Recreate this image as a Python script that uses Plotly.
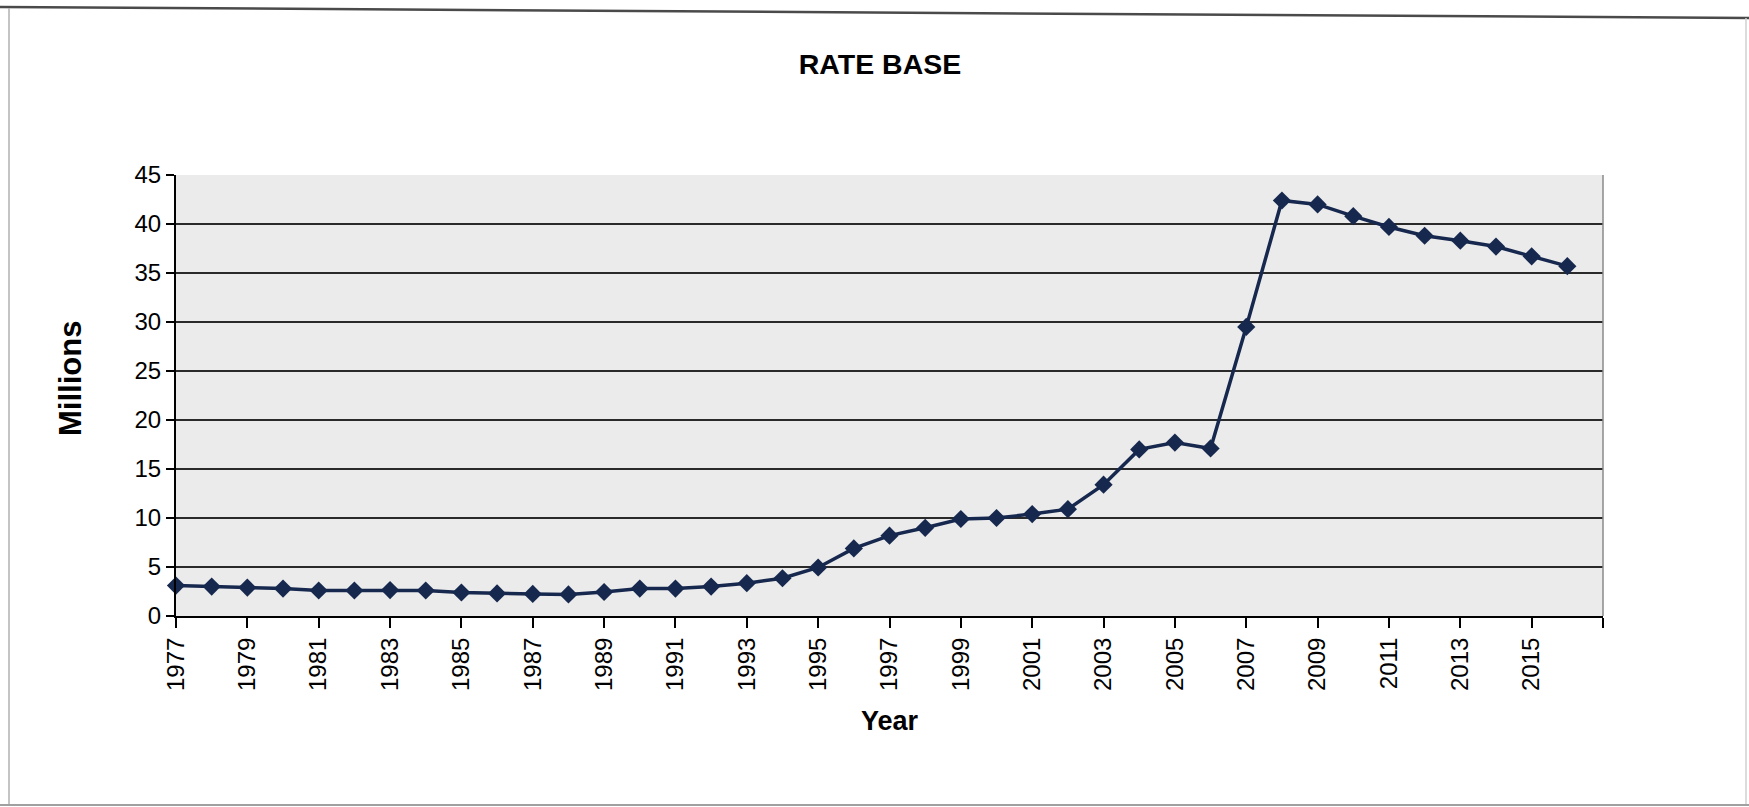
import plotly.graph_objects as go

years = list(range(1977, 2017))
rate_base = [3.1, 3.0, 2.9, 2.8, 2.6, 2.6, 2.65, 2.6, 2.4, 2.3,
             2.25, 2.2, 2.45, 2.8, 2.8, 3.0, 3.35, 3.85, 4.95, 6.9,
             8.2, 9.0, 9.9, 10.0, 10.4, 10.9, 13.4, 17.0, 17.7, 17.1,
             29.5, 42.4, 42.0, 40.8, 39.7, 38.8, 38.3, 37.7, 36.7, 35.7]
x_tick_vals = list(range(1977, 2018, 2))
x_tick_text = [str(v) if v <= 2015 else "" for v in x_tick_vals]
y_tick_vals = list(range(0, 46, 5))

W, H = 1749, 807
L, R, T, B = 176, 146, 175, 191
pw, ph = W - L - R, H - T - B

def px(xp):
    return (xp - L) / pw

def py(yp):
    return (H - B - yp) / ph

FONT = "Arial, Liberation Sans, sans-serif"

fig = go.Figure()
fig.add_trace(go.Scatter(
    x=years, y=rate_base, mode="lines+markers",
    line=dict(color="#17284f", width=3.5),
    marker=dict(symbol="diamond", size=14, color="#17284f"),
    showlegend=False, cliponaxis=False,
))

shapes = [
    # plot area right border
    dict(type="line", xref="paper", yref="paper", x0=1, x1=1, y0=0, y1=1,
         line=dict(color="#8a8a8a", width=1.5)),
    # scanned page frame
    dict(type="line", xref="paper", yref="paper", x0=px(0), y0=py(7), x1=px(W), y1=py(18),
         line=dict(color="#4a4a4a", width=2.5)),
    dict(type="line", xref="paper", yref="paper", x0=px(9), y0=py(8), x1=px(9), y1=py(805),
         line=dict(color="#b0b0b0", width=1.5)),
    dict(type="line", xref="paper", yref="paper", x0=px(1746), y0=py(18), x1=px(1746), y1=py(805),
         line=dict(color="#d0d0d0", width=1.5)),
    dict(type="line", xref="paper", yref="paper", x0=px(0), y0=py(805), x1=px(W), y1=py(805),
         line=dict(color="#a0a0a0", width=2)),
]

fig.update_layout(
    width=W, height=H,
    margin=dict(l=L, r=R, t=T, b=B, autoexpand=False),
    paper_bgcolor="white",
    plot_bgcolor="#ebebeb",
    font=dict(family=FONT, color="black"),
    title=dict(text="RATE BASE", x=880 / W, xref="container", xanchor="center",
               y=1 - 64 / H, yref="container", yanchor="middle",
               font=dict(size=28.5, family=FONT, weight="bold", color="black")),
    shapes=shapes,
    annotations=[dict(text="Millions", xref="paper", yref="paper",
                      x=px(70), y=py(378), xanchor="center", yanchor="middle",
                      textangle=-90, showarrow=False,
                      font=dict(size=31, family=FONT, weight="bold", color="black"))],
)
fig.update_xaxes(
    range=[1977, 2017], tickvals=x_tick_vals, ticktext=x_tick_text,
    tickangle=-90, tickfont=dict(size=24, family=FONT, color="black"),
    ticks="outside", ticklen=10, tickcolor="black", tickwidth=1.5,
    showline=True, linecolor="black", linewidth=2, showgrid=False, zeroline=False,
    automargin=False,
    title=dict(text="Year", standoff=21, font=dict(size=27, family=FONT, weight="bold", color="black")),
)
fig.update_yaxes(
    range=[0, 45], tickvals=y_tick_vals,
    tickfont=dict(size=24, family=FONT, color="black"),
    ticks="outside", ticklen=8, tickcolor="black", tickwidth=1.5,
    showline=True, linecolor="black", linewidth=2,
    showgrid=True, gridcolor="#2a2a2a", gridwidth=1.5, zeroline=False,
    automargin=False,
)

fig.write_html("out.html", config={"displayModeBar": False},
               post_script="document.body.style.margin='0';")
